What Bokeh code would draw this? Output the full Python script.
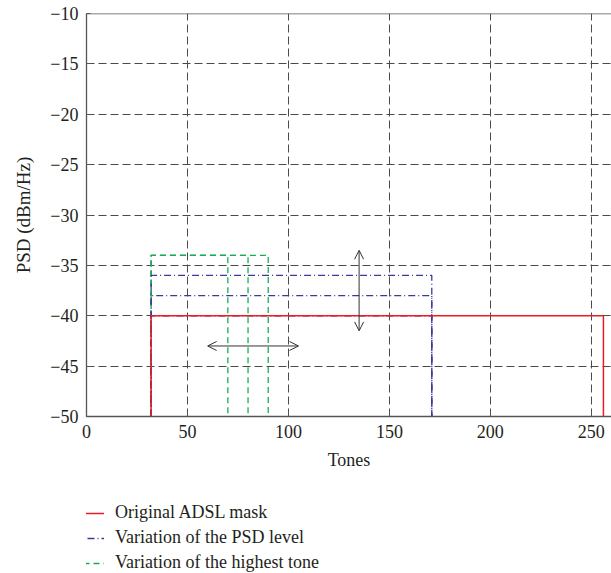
from bokeh.plotting import figure
from bokeh.models import (FixedTicker, Span, Arrow, OpenHead, Legend, LegendItem,
                          ColumnDataSource)
from bokeh.layouts import column
from bokeh.embed import file_html
from bokeh.resources import INLINE

# ---- data ----
x_ticks = [0, 50, 100, 150, 200, 250]
y_ticks = [-50, -45, -40, -35, -30, -25, -20, -15, -10]
y_tick_labels = ["\u221250", "\u221245", "\u221240", "\u221235", "\u221230",
                 "\u221225", "\u221220", "\u221215", "\u221210"]

floor = -50
start_tone = 32
mask_end = 256
mask_level = -40

psd_levels = [-36, -38, -40]
psd_end = 171

tone_level = -34
tone_ends = [70, 80, 90]

h_arrow_x = [60, 105]
h_arrow_y = -43
v_arrow_x = 135
v_arrow_y = [-33.5, -41.5]

legend_labels = ["Original ADSL mask", "Variation of the PSD level",
                 "Variation of the highest tone"]

FONT = "Liberation Serif"
TXT = "#231f20"
RED = "#ec1c24"
BLUE = "#3a3a9a"
GREEN = "#18ad55"
GRID = "#4a4a4a"

p = figure(width=611, height=496, x_range=(0, 260), y_range=(-50, -10),
           output_backend="svg", toolbar_location=None,
           min_border_left=86, min_border_top=13, min_border_right=0,
           min_border_bottom=80)
p.outline_line_color = None
p.background_fill_color = "white"

# grid
for g in (p.xgrid, p.ygrid):
    g.grid_line_color = GRID
    g.grid_line_dash = "8 4"
    g.grid_line_width = 1
p.xaxis.ticker = FixedTicker(ticks=x_ticks)
p.yaxis.ticker = FixedTicker(ticks=y_ticks)
p.yaxis.major_label_overrides = dict(zip(y_ticks, y_tick_labels))

for ax in (p.xaxis, p.yaxis):
    ax.axis_line_color = "#555555"
    ax.axis_line_width = 1.3
    ax.major_tick_in = 4
    ax.major_tick_out = 0
    ax.major_tick_line_color = "#555555"
    ax.minor_tick_line_color = None
    ax.major_label_text_font = FONT
    ax.major_label_text_font_size = "18px"
    ax.major_label_text_color = TXT
    ax.axis_label_text_font = FONT
    ax.axis_label_text_font_style = "normal"
    ax.axis_label_text_color = TXT

p.xaxis.axis_label = "Tones"
p.yaxis.axis_label = "PSD (dBm/Hz)"
p.xaxis.axis_label_text_font_size = "18px"
p.yaxis.axis_label_text_font_size = "19px"
p.xaxis.major_label_standoff = 8
p.xaxis.axis_label_standoff = 9
p.yaxis.major_label_standoff = 8
p.yaxis.axis_label_standoff = 13

# top frame line
p.add_layout(Span(location=-10, dimension="width", line_color="#555555",
                  line_width=1.3))

# green: variation of highest tone
for e in tone_ends:
    p.line([start_tone, start_tone, e, e], [floor, tone_level, tone_level, floor],
           line_color=GREEN, line_dash="6 4", line_width=1.3)

# blue: variation of PSD level
for lv in psd_levels:
    p.line([start_tone, start_tone, psd_end, psd_end], [floor, lv, lv, floor],
           line_color=BLUE, line_dash="7 3 1 3", line_width=1.3)

# red: original mask
p.line([start_tone, start_tone, mask_end, mask_end],
       [floor, mask_level, mask_level, floor],
       line_color=RED, line_width=1.5)

# arrows
p.add_layout(Arrow(start=OpenHead(size=9, line_color="#333333", line_width=1),
                   end=OpenHead(size=9, line_color="#333333", line_width=1),
                   x_start=h_arrow_x[0], y_start=h_arrow_y,
                   x_end=h_arrow_x[1], y_end=h_arrow_y,
                   line_color="#333333", line_width=1))
p.add_layout(Arrow(start=OpenHead(size=9, line_color="#333333", line_width=1),
                   end=OpenHead(size=9, line_color="#333333", line_width=1),
                   x_start=v_arrow_x, y_start=v_arrow_y[0],
                   x_end=v_arrow_x, y_end=v_arrow_y[1],
                   line_color="#333333", line_width=1))

# legend figure
lf = figure(width=611, height=77, output_backend="svg", toolbar_location=None,
            x_range=(0, 1), y_range=(0, 1), min_border=0)
lf.axis.visible = False
lf.grid.visible = False
lf.outline_line_color = None
hidden = ColumnDataSource(data=dict(x=[-5, -4], y=[-5, -5]))
r1 = lf.line("x", "y", source=hidden, line_color=RED, line_width=1.5)
r2 = lf.line("x", "y", source=hidden, line_color=BLUE, line_width=1.3,
             line_dash="7 3 1 3")
r3 = lf.line("x", "y", source=hidden, line_color=GREEN, line_width=1.3,
             line_dash="6 4")
leg = Legend(items=[LegendItem(label=legend_labels[0], renderers=[r1]),
                    LegendItem(label=legend_labels[1], renderers=[r2]),
                    LegendItem(label=legend_labels[2], renderers=[r3])],
             location=(-13, 0), padding=0, margin=0, spacing=4,
             glyph_width=31, glyph_height=20, label_height=20,
             label_standoff=11, border_line_color=None,
             background_fill_alpha=0,
             label_text_font=FONT, label_text_font_size="18px",
             label_text_color=TXT)
lf.add_layout(leg)

layout = column(p, lf, spacing=0)
open("out.html", "w").write(file_html(layout, INLINE))
